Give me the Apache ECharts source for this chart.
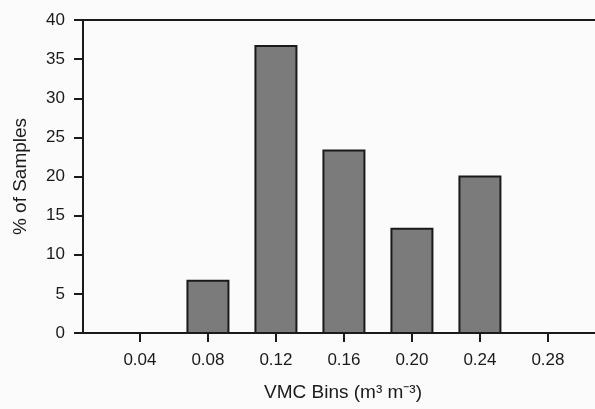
<!DOCTYPE html>
<html>
<head>
<meta charset="utf-8">
<style>
  html, body { margin: 0; padding: 0; background: #fbfbfb; }
  #main { width: 595px; height: 409px; }
</style>
</head>
<body>
<div id="main"></div>
<script src="https://cdn.jsdelivr.net/npm/echarts@6/dist/echarts.min.js"></script>
<script>
// bins (m3 m-3) and % of samples
var bins = [0.04, 0.08, 0.12, 0.16, 0.20, 0.24, 0.28];
var percents = [0, 6.67, 36.67, 23.33, 13.33, 20.0, 0];

var barData = [];
for (var i = 0; i < bins.length; i++) {
    barData.push([bins[i], percents[i]]);
}

var chart = echarts.init(document.getElementById('main'));

var font = 'Liberation Sans, Arial, sans-serif';
var ink = '#1a1a1a';
var xMin = 0.0065, xMax = 0.3124;

// bars drawn with a custom series so the value axis keeps its exact range
function renderBar(params, api) {
    var v = api.value(1);
    if (!v) return null;
    var base = api.coord([api.value(0), 0]);
    var top = api.coord([api.value(0), v]);
    var w = 41;
    return {
        type: 'rect',
        shape: { x: base[0] - w / 2, y: top[1], width: w, height: base[1] - top[1] },
        style: { fill: '#7b7b7b', stroke: ink, lineWidth: 2 }
    };
}

var option = {
    backgroundColor: '#fbfbfb',
    animation: false,
    grid: {
        left: 83,
        top: 20,
        width: 520,
        height: 313,
        outerBoundsMode: 'none'
    },
    xAxis: [{
        type: 'value',
        min: xMin,
        max: xMax,
        name: 'VMC Bins (m³ m⁻³)',
        nameLocation: 'middle',
        nameGap: 50,
        nameTextStyle: { fontFamily: font, fontSize: 19, color: ink },
        axisLine: { lineStyle: { color: ink, width: 2 } },
        axisTick: { show: true, inside: false, length: 9, customValues: bins, lineStyle: { color: ink, width: 2 } },
        axisLabel: {
            customValues: bins,
            margin: 19,
            fontFamily: font, fontSize: 17, color: ink,
            formatter: function (v) { return v.toFixed(2); }
        },
        splitLine: { show: false }
    }, {
        // top border of the frame
        type: 'value',
        position: 'top',
        min: xMin,
        max: xMax,
        axisLine: { show: true, lineStyle: { color: ink, width: 2 } },
        axisTick: { show: false },
        axisLabel: { show: false },
        splitLine: { show: false }
    }],
    yAxis: {
        type: 'value',
        min: 0,
        max: 40,
        interval: 5,
        name: '% of Samples',
        nameLocation: 'middle',
        nameGap: 53,
        nameTextStyle: { fontFamily: font, fontSize: 19, color: ink },
        axisLine: { show: true, lineStyle: { color: ink, width: 2 } },
        axisTick: { show: true, inside: false, length: 9, lineStyle: { color: ink, width: 2 } },
        axisLabel: { margin: 18, fontFamily: font, fontSize: 17, color: ink },
        splitLine: { show: false }
    },
    series: [{
        type: 'custom',
        renderItem: renderBar,
        encode: { x: 0, y: 1 },
        data: barData
    }]
};

chart.setOption(option);
</script>
</body>
</html>
